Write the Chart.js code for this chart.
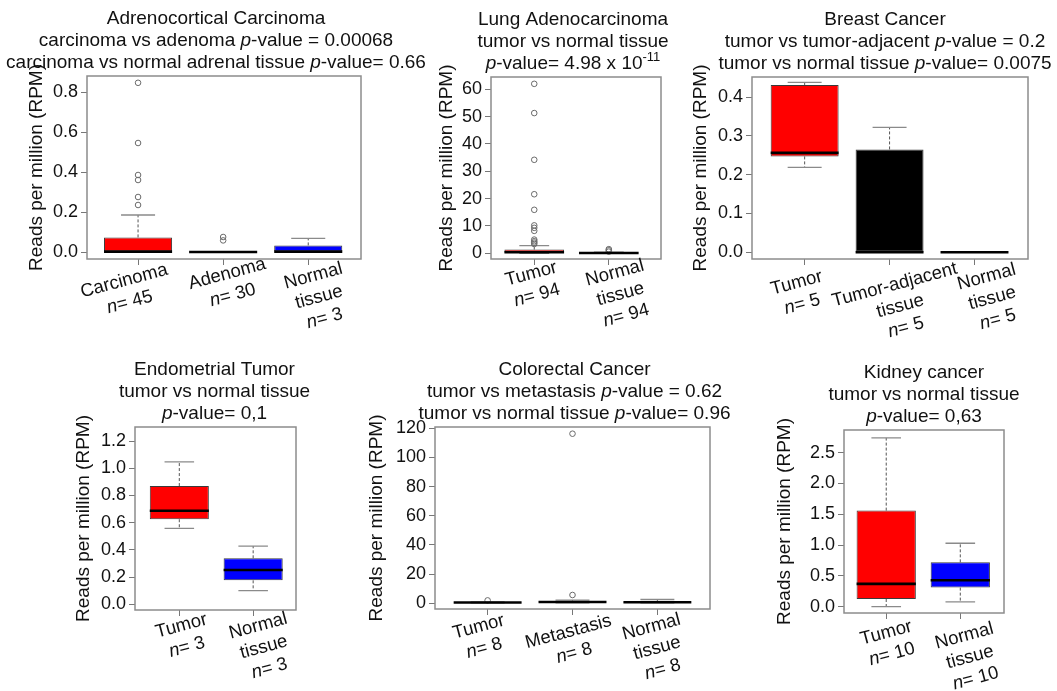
<!DOCTYPE html>
<html>
<head>
<meta charset="utf-8">
<script src="https://cdn.jsdelivr.net/npm/chart.js@4.4.0/dist/chart.umd.min.js"></script>
<style>
  html, body { margin: 0; padding: 0; background: #fff; }
  #wrap { position: relative; width: 1057px; height: 691px; }
  #wrap canvas { position: absolute; left: 0; top: 0; }
</style>
</head>
<body>
<div id="wrap"></div>
<script>
// ---------- Adrenocortical carcinoma ----------
const acTitle = ["Adrenocortical Carcinoma", "carcinoma vs adenoma *p*-value = 0.00068", "carcinoma vs normal adrenal tissue *p*-value= 0.66"];
const acGroups = [["Carcinoma"], ["Adenoma"], ["Normal", "tissue"]];
const acN = [45, 30, 3];
const acLow = [0, 0, 0];
const acQ1 = [0, 0, 0];
const acMed = [0.002, 0, 0.002];
const acQ3 = [0.073, 0, 0.033];
const acHigh = [0.185, 0, 0.068];
const acOut = [[0.846, 0.545, 0.385, 0.36, 0.275, 0.235], [0.075, 0.058], []];
const acTicks = [0, 0.2, 0.4, 0.6, 0.8];

// ---------- Lung adenocarcinoma ----------
const luTitle = ["Lung Adenocarcinoma", "tumor vs normal tissue", "*p*-value= 4.98 x 10^-11^"];
const luGroups = [["Tumor"], ["Normal", "tissue"]];
const luN = [94, 94];
const luLow = [0, 0];
const luQ1 = [0.15, 0];
const luMed = [0.35, 0.08];
const luQ3 = [1.35, 0.2];
const luHigh = [2.8, 0.45];
const luOut = [[62, 51.3, 34.2, 21.6, 15.9, 10.2, 9.3, 8.2, 5.0, 4.4, 3.9, 3.4], [1.5, 1.1, 0.6]];
const luTicks = [0, 10, 20, 30, 40, 50, 60];

// ---------- Breast cancer ----------
const bcTitle = ["Breast Cancer", "tumor vs tumor-adjacent *p*-value = 0.2", "tumor vs normal tissue *p*-value= 0.0075"];
const bcGroups = [["Tumor"], ["Tumor-adjacent", "tissue"], ["Normal", "tissue"]];
const bcN = [5, 5, 5];
const bcLow = [0.219, 0, 0];
const bcQ1 = [0.247, 0, 0];
const bcMed = [0.256, 0, 0];
const bcQ3 = [0.431, 0.265, 0];
const bcHigh = [0.438, 0.322, 0];
const bcOut = [[], [], []];
const bcTicks = [0, 0.1, 0.2, 0.3, 0.4];

// ---------- Endometrial tumor ----------
const enTitle = ["Endometrial Tumor", "tumor vs normal tissue", "*p*-value= 0,1"];
const enGroups = [["Tumor"], ["Normal", "tissue"]];
const enN = [3, 3];
const enLow = [0.558, 0.1];
const enQ1 = [0.625, 0.176];
const enMed = [0.688, 0.252];
const enQ3 = [0.869, 0.338];
const enHigh = [1.046, 0.428];
const enOut = [[], []];
const enTicks = [0, 0.2, 0.4, 0.6, 0.8, 1.0, 1.2];

// ---------- Colorectal cancer ----------
const crTitle = ["Colorectal Cancer", "tumor vs metastasis *p*-value = 0.62", "tumor vs normal tissue *p*-value= 0.96"];
const crGroups = [["Tumor"], ["Metastasis"], ["Normal", "tissue"]];
const crN = [8, 8, 8];
const crLow = [0.3, 0.3, 0.3];
const crQ1 = [0.45, 0.6, 0.55];
const crMed = [0.55, 0.9, 0.7];
const crQ3 = [0.65, 1.5, 0.95];
const crHigh = [0.9, 2.2, 2.6];
const crOut = [[2.0], [116.3, 5.7], []];
const crTicks = [0, 20, 40, 60, 80, 100, 120];

// ---------- Kidney cancer ----------
const kdTitle = ["Kidney cancer", "tumor vs normal tissue", "*p*-value= 0,63"];
const kdGroups = [["Tumor"], ["Normal", "tissue"]];
const kdN = [10, 10];
const kdLow = [0.0, 0.08];
const kdQ1 = [0.125, 0.31];
const kdMed = [0.37, 0.43];
const kdQ3 = [1.56, 0.72];
const kdHigh = [2.74, 1.03];
const kdOut = [[], []];
const kdTicks = [0, 0.5, 1.0, 1.5, 2.0, 2.5];

const RED = "#ff0000", BLUE = "#0000ff", BLACK = "#000000";
const FAMILY = "'Liberation Sans', Arial, Helvetica, sans-serif";
const FS = 19;
const TITLE_LH = FS * 1.2;
const X_AXIS_H = 10;
const W = 1057, H = 691;

// frame = [left, top, right, bottom] of each plot box
// labelDx / labelDy = nudge of the first line of each rotated group label
const panels = [
  { title: acTitle, groups: acGroups, n: acN, low: acLow, q1: acQ1, med: acMed, q3: acQ3, high: acHigh, out: acOut,
    ticks: acTicks, dec: 1, colors: [RED, BLACK, BLUE], frame: [87, 76, 361, 259],
    xRange: [0.40, 3.62], yRange: [-0.035, 0.88], yTitleX: 37, titleDx: -8,
    labelDx: [-14, 4, 5], labelDy: [22, 15, 17] },
  { title: luTitle, groups: luGroups, n: luN, low: luLow, q1: luQ1, med: luMed, q3: luQ3, high: luHigh, out: luOut,
    ticks: luTicks, dec: 0, colors: [RED, BLACK], frame: [491, 77, 661, 259],
    xRange: [0.42, 2.70], yRange: [-2.1, 64.5], yTitleX: 447, titleDx: -3,
    labelDx: [-3, 6], labelDy: [15, 14] },
  { title: bcTitle, groups: bcGroups, n: bcN, low: bcLow, q1: bcQ1, med: bcMed, q3: bcQ3, high: bcHigh, out: bcOut,
    ticks: bcTicks, dec: 1, colors: [RED, BLACK, BLACK], frame: [752, 77, 1028, 259],
    xRange: [0.38, 3.63], yRange: [-0.0173, 0.4516], yTitleX: 701, titleDx: -5,
    labelDx: [-8, 5, 12], labelDy: [24, 26, 18] },
  { title: enTitle, groups: enGroups, n: enN, low: enLow, q1: enQ1, med: enMed, q3: enQ3, high: enHigh, out: enOut,
    ticks: enTicks, dec: 1, colors: [RED, BLUE], frame: [135, 427, 296, 610],
    xRange: [0.40, 2.58], yRange: [-0.042, 1.303], yTitleX: 84, titleDx: -1,
    labelDx: [2, 5], labelDy: [16, 16] },
  { title: crTitle, groups: crGroups, n: crN, low: crLow, q1: crQ1, med: crMed, q3: crQ3, high: crHigh, out: crOut,
    ticks: crTicks, dec: 0, colors: [RED, RED, BLUE], frame: [435, 427, 710, 609],
    xRange: [0.38, 3.62], yRange: [-3.9, 120.9], yTitleX: 377, titleDx: 2,
    labelDx: [-9, -4, -6], labelDy: [18, 23, 18] },
  { title: kdTitle, groups: kdGroups, n: kdN, low: kdLow, q1: kdQ1, med: kdMed, q3: kdQ3, high: kdHigh, out: kdOut,
    ticks: kdTicks, dec: 1, colors: [RED, BLUE], frame: [844, 430, 1004, 613],
    xRange: [0.43, 2.59], yRange: [-0.102, 2.868], yTitleX: 785, titleDx: 0,
    labelDx: [0, 4], labelDy: [20, 23] }
];

// "*x*" = italic, "^x^" = superscript
function segments(text) {
  return text.split(/(\*[^*]+\*|\^[^^]+\^)/).filter(Boolean).map(function (s) {
    if (s[0] === "*") return { t: s.slice(1, -1), style: "italic" };
    if (s[0] === "^") return { t: s.slice(1, -1), style: "sup" };
    return { t: s, style: "normal" };
  });
}
function segFont(style, size) {
  if (style === "italic") return "italic " + size + "px " + FAMILY;
  if (style === "sup") return Math.round(size * 0.7) + "px " + FAMILY;
  return size + "px " + FAMILY;
}
function drawRich(ctx, text, cx, cy, size) {
  const segs = segments(text);
  let total = 0;
  segs.forEach(function (s) { ctx.font = segFont(s.style, size); s.w = ctx.measureText(s.t).width; total += s.w; });
  let x = cx - total / 2;
  ctx.textAlign = "left";
  ctx.textBaseline = "middle";
  ctx.fillStyle = "#111";
  segs.forEach(function (s) {
    ctx.font = segFont(s.style, size);
    ctx.fillText(s.t, x, s.style === "sup" ? cy - size * 0.35 : cy);
    x += s.w;
  });
}

function boxPlugin(p) {
  return {
    id: "boxplot",
    beforeDatasetsDraw: function (chart) {
      const ctx = chart.ctx, xs = chart.scales.x, ys = chart.scales.y;
      const bars = chart.getDatasetMeta(0).data;
      ctx.save();
      p.q1.forEach(function (q, i) {
        const x = xs.getPixelForValue(i + 1);
        const half = bars[i].width / 4;
        ctx.strokeStyle = "#555";
        ctx.lineWidth = 1;
        ctx.setLineDash([3, 2]);
        ctx.beginPath();
        ctx.moveTo(x, ys.getPixelForValue(p.q3[i]));
        ctx.lineTo(x, ys.getPixelForValue(p.high[i]));
        ctx.moveTo(x, ys.getPixelForValue(q));
        ctx.lineTo(x, ys.getPixelForValue(p.low[i]));
        ctx.stroke();
        ctx.setLineDash([]);
        ctx.strokeStyle = "#8a8a8a";
        ctx.lineWidth = 1.3;
        ctx.beginPath();
        [p.high[i], p.low[i]].forEach(function (v) {
          const y = ys.getPixelForValue(v);
          ctx.moveTo(x - half, y);
          ctx.lineTo(x + half, y);
        });
        ctx.stroke();
      });
      ctx.restore();
    },
    afterDatasetsDraw: function (chart) {
      const ctx = chart.ctx, xs = chart.scales.x, ys = chart.scales.y, a = chart.chartArea;
      const bars = chart.getDatasetMeta(0).data;
      ctx.save();
      // medians
      ctx.strokeStyle = "#000";
      ctx.lineWidth = 2.6;
      p.med.forEach(function (m, i) {
        const x = xs.getPixelForValue(i + 1), w = bars[i].width / 2, y = ys.getPixelForValue(m);
        ctx.beginPath();
        ctx.moveTo(x - w, y);
        ctx.lineTo(x + w, y);
        ctx.stroke();
      });
      // frame
      ctx.strokeStyle = "#8c8c8c";
      ctx.lineWidth = 1.5;
      ctx.strokeRect(a.left, a.top, a.right - a.left, a.bottom - a.top);
      // group labels, rotated, first line near the tick
      const ang = -15 * Math.PI / 180;
      p.groups.forEach(function (g, i) {
        const lines = g.concat(["*n*= " + p.n[i]]);
        ctx.save();
        ctx.translate(xs.getPixelForValue(i + 1) + p.labelDx[i], a.bottom + p.labelDy[i]);
        ctx.rotate(ang);
        lines.forEach(function (line, j) { drawRich(ctx, line, 0, j * 22, 18.5); });
        ctx.restore();
      });
      // title
      const cx = (a.left + a.right) / 2 + p.titleDx;
      p.title.forEach(function (line, k) {
        drawRich(ctx, line, cx, a.top - 13 - 22 * (p.title.length - 1 - k), FS);
      });
      ctx.restore();
    }
  };
}

Chart.defaults.font.family = FAMILY;

panels.forEach(function (p) {
  const canvas = document.createElement("canvas");
  canvas.width = W;
  canvas.height = H;
  document.getElementById("wrap").appendChild(canvas);

  const yWidth = p.frame[0] - p.yTitleX + TITLE_LH / 2;
  const gridOpts = { offset: false, drawOnChartArea: false, drawTicks: true, tickLength: 6, tickWidth: 1, color: "#777" };

  new Chart(canvas, {
    type: "bar",
    data: {
      datasets: [
        {
          type: "bar",
          data: p.q1.map(function (q, i) { return { x: i + 1, y: [q, p.q3[i]] }; }),
          backgroundColor: p.colors,
          borderColor: "#3a3a3a",
          borderWidth: 1,
          borderSkipped: false,
          barPercentage: 0.8,
          categoryPercentage: 1,
          grouped: false
        },
        {
          type: "scatter",
          data: p.out.flatMap(function (vals, i) { return vals.map(function (v) { return { x: i + 1, y: v }; }); }),
          pointRadius: 2.8,
          pointBorderColor: "#6a6a6a",
          pointBackgroundColor: "rgba(0,0,0,0)",
          pointBorderWidth: 1
        }
      ]
    },
    options: {
      responsive: false,
      devicePixelRatio: 1,
      animation: false,
      events: [],
      layout: {
        padding: {
          left: p.yTitleX - TITLE_LH / 2,
          top: p.frame[1],
          right: W - p.frame[2],
          bottom: H - p.frame[3] - X_AXIS_H
        }
      },
      plugins: { legend: { display: false }, tooltip: { enabled: false }, title: { display: false } },
      scales: {
        x: {
          type: "linear",
          bounds: "data",
          min: p.xRange[0],
          max: p.xRange[1],
          offset: false,
          grid: gridOpts,
          border: { display: false },
          ticks: { callback: function () { return ""; }, padding: 0 },
          afterBuildTicks: function (s) { s.ticks = p.groups.map(function (g, i) { return { value: i + 1 }; }); },
          afterFit: function (s) { s.height = X_AXIS_H; }
        },
        y: {
          type: "linear",
          bounds: "data",
          beginAtZero: false,
          min: p.yRange[0],
          max: p.yRange[1],
          grid: gridOpts,
          border: { display: false },
          ticks: {
            color: "#111",
            padding: 3,
            font: { size: 18, family: FAMILY },
            callback: function (v) { return Number(v).toFixed(p.dec); }
          },
          afterBuildTicks: function (s) { s.ticks = p.ticks.map(function (v) { return { value: v }; }); },
          title: {
            display: true,
            text: "Reads per million (RPM)",
            color: "#111",
            padding: 0,
            font: { size: FS, family: FAMILY, lineHeight: 1.2 }
          },
          afterFit: function (s) { s.width = yWidth; }
        }
      }
    },
    plugins: [boxPlugin(p)]
  });
});
</script>
</body>
</html>
